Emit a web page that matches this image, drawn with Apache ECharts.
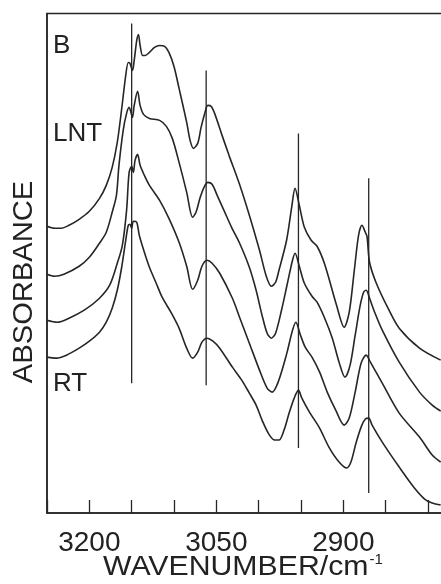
<!DOCTYPE html>
<html>
<head>
<meta charset="utf-8">
<script src="https://cdn.jsdelivr.net/npm/echarts@6/dist/echarts.min.js"></script>
<style>
html,body{margin:0;padding:0;background:#fff;}
#chart{width:441px;height:584px;}
</style>
</head>
<body>
<div id="chart"></div>
<script>
// x: wavenumber (cm-1), y: absorbance (arbitrary, offset traces)
var xTickLabels = [3200, 3050, 2900];
var curveNames = ['B', 'LNT', 'MID', 'RT'];

var curveB = [
 [3250,2.87],[3241,2.85],[3233,2.85],[3224,2.88],[3212,2.94],[3200,3.02],[3188,3.15],[3180,3.28],
 [3173,3.46],[3167,3.71],[3162,4.03],[3157,4.38],[3154,4.51],[3152,4.50],[3149,4.43],[3147,4.53],
 [3144,4.73],[3142,4.79],[3140,4.68],[3137,4.58],[3134,4.58],[3129,4.61],[3123,4.66],[3117,4.68],
 [3111,4.67],[3106,4.61],[3100,4.47],[3094,4.25],[3085,3.91],[3081,3.73],[3077,3.65],[3072,3.70],
 [3068,3.86],[3064,3.99],[3060,4.08],[3056,4.07],[3052,4.00],[3044,3.80],[3035,3.58],[3023,3.30],
 [3011,2.98],[2999,2.63],[2991,2.37],[2985,2.27],[2980,2.31],[2976,2.43],[2967,2.73],[2961,3.06],
 [2957,3.25],[2952,3.08],[2946,2.86],[2938,2.73],[2931,2.67],[2922,2.49],[2908,2.08],[2899,1.86],
 [2893,2.01],[2887,2.43],[2882,2.78],[2878,2.88],[2874,2.81],[2872,2.77],[2869,2.51],[2861,2.30],
 [2846,2.03],[2834,1.85],[2810,1.65],[2785,1.53]
];
var curveLNT = [
 [3250,2.39],[3241,2.37],[3230,2.39],[3212,2.47],[3200,2.56],[3188,2.70],[3180,2.81],[3173,3.01],
 [3168,3.18],[3165,3.48],[3160,3.83],[3156,4.00],[3153,4.06],[3149,3.96],[3147,4.08],[3143,4.22],
 [3140,4.08],[3136,3.99],[3129,3.95],[3117,3.93],[3109,3.87],[3102,3.75],[3094,3.51],[3085,3.21],
 [3078,2.96],[3074,3.01],[3069,3.16],[3064,3.27],[3060,3.31],[3055,3.29],[3049,3.18],[3041,3.03],
 [3032,2.86],[3023,2.71],[3011,2.46],[3003,2.23],[2996,1.98],[2990,1.80],[2985,1.75],[2980,1.80],
 [2973,2.03],[2966,2.30],[2960,2.53],[2957,2.60],[2952,2.47],[2946,2.30],[2937,2.17],[2931,2.11],
 [2922,1.95],[2913,1.75],[2905,1.51],[2898,1.36],[2892,1.48],[2886,1.78],[2880,2.08],[2876,2.21],
 [2873,2.23],[2869,2.15],[2863,2.01],[2854,1.83],[2834,1.51],[2810,1.21],[2795,1.08],[2785,1.02]
];
var curveMID = [
 [3250,1.93],[3238,1.91],[3224,1.95],[3206,2.03],[3188,2.15],[3176,2.28],[3167,2.50],[3161,2.68],
 [3156,3.03],[3153,3.41],[3150,3.47],[3148,3.41],[3146,3.53],[3143,3.59],[3140,3.48],[3135,3.38],
 [3129,3.28],[3117,3.13],[3106,2.95],[3094,2.71],[3085,2.47],[3078,2.24],[3072,2.33],[3067,2.47],
 [3061,2.53],[3055,2.50],[3046,2.40],[3031,2.15],[3023,1.97],[3011,1.70],[2999,1.43],[2990,1.25],
 [2984,1.21],[2977,1.31],[2967,1.59],[2960,1.83],[2956,1.91],[2951,1.79],[2945,1.66],[2937,1.56],
 [2928,1.41],[2919,1.21],[2909,1.03],[2899,0.88],[2893,0.95],[2886,1.21],[2879,1.50],[2873,1.58],
 [2868,1.51],[2854,1.30],[2834,1.00],[2810,0.76],[2795,0.58],[2785,0.51]
];
var curveRT = [
 [3250,1.56],[3239,1.55],[3227,1.58],[3212,1.65],[3200,1.72],[3188,1.81],[3180,1.91],[3173,2.05],
 [3167,2.23],[3162,2.45],[3157,2.73],[3154,2.88],[3152,2.89],[3150,2.85],[3148,2.92],[3144,2.91],
 [3141,2.78],[3135,2.61],[3129,2.46],[3121,2.30],[3114,2.16],[3103,2.00],[3094,1.85],[3085,1.65],
 [3078,1.55],[3072,1.61],[3067,1.71],[3061,1.75],[3054,1.72],[3046,1.65],[3031,1.46],[3020,1.33],
 [3011,1.20],[3003,1.08],[2996,0.93],[2988,0.79],[2981,0.73],[2976,0.73],[2970,0.83],[2964,1.00],
 [2958,1.15],[2953,1.23],[2949,1.15],[2940,1.01],[2928,0.85],[2917,0.66],[2905,0.51],[2896,0.45],
 [2891,0.51],[2885,0.70],[2879,0.86],[2874,0.94],[2870,0.95],[2866,0.88],[2854,0.71],[2834,0.46],
 [2816,0.25],[2804,0.14],[2795,0.10],[2785,0.08]
];
// vertical marker lines: position, top, bottom
var markWn = [3150, 3062, 2953, 2870];
var markTop = [4.90, 4.43, 3.80, 3.35];
var markBottom = [1.30, 1.28, 0.65, 0.20];

var ink = '#262626';
var FONT = '"Liberation Sans", Arial, Helvetica, sans-serif';
var chart = echarts.init(document.getElementById('chart'), null, {renderer: 'canvas'});

var series = [];
[curveB, curveLNT, curveMID, curveRT].forEach(function (c, i) {
  series.push({
    name: curveNames[i], type: 'line', data: c, showSymbol: false, smooth: 0.3,
    lineStyle: {color: ink, width: 1.6}, silent: true, animation: false
  });
});
markWn.forEach(function (w, i) {
  series.push({
    type: 'line', data: [[w, markBottom[i]], [w, markTop[i]]], showSymbol: false,
    lineStyle: {color: ink, width: 1.3}, silent: true, animation: false
  });
});

chart.setOption({
  animation: false,
  grid: {left: 47, top: 13.5, width: 423.3, height: 499.5, outerBoundsMode: 'none', containLabel: false,
         show: true, borderColor: ink, borderWidth: 1.5},
  xAxis: {
    type: 'value', min: 2750, max: 3250, interval: 50, inverse: true,
    axisLine: {show: true, lineStyle: {color: ink, width: 1.5}},
    axisTick: {show: true, inside: true, length: 13, lineStyle: {color: ink, width: 1.3}},
    splitLine: {show: false},
    axisLabel: {
      margin: 16, fontSize: 28, color: '#222', fontFamily: FONT,
      formatter: function (v) { return xTickLabels.indexOf(v) >= 0 ? String(v) : ''; }
    }
  },
  yAxis: {
    type: 'value', min: 0, max: 5,
    axisLine: {show: true, lineStyle: {color: ink, width: 1.5}},
    axisTick: {show: false}, axisLabel: {show: false}, splitLine: {show: false}
  },
  graphic: [
    {type: 'text', x: 53, y: 46, style: {text: 'B', font: '26px ' + FONT, fill: '#222', verticalAlign: 'middle'}},
    {type: 'text', x: 53, y: 134, style: {text: 'LNT', font: '26px ' + FONT, fill: '#222', verticalAlign: 'middle'}},
    {type: 'text', x: 53, y: 384, style: {text: 'RT', font: '26px ' + FONT, fill: '#222', verticalAlign: 'middle'}},
    {type: 'text', x: 24, y: 282, rotation: Math.PI / 2, scaleX: 1.04,
      style: {text: 'ABSORBANCE', font: '28px ' + FONT, fill: '#222', align: 'center', verticalAlign: 'middle'}},
    {type: 'text', x: 103, y: 567, scaleX: 1.08,
      style: {text: '{a|WAVENUMBER/cm}{s|-1}', verticalAlign: 'middle', fill: '#222',
        rich: {a: {fontSize: 28, fontFamily: FONT, fill: '#222'},
               s: {fontSize: 14, fontFamily: FONT, fill: '#222', verticalAlign: 'top', padding: [0, 0, 0, 1]}}}}
  ],
  series: series
});
</script>
</body>
</html>
